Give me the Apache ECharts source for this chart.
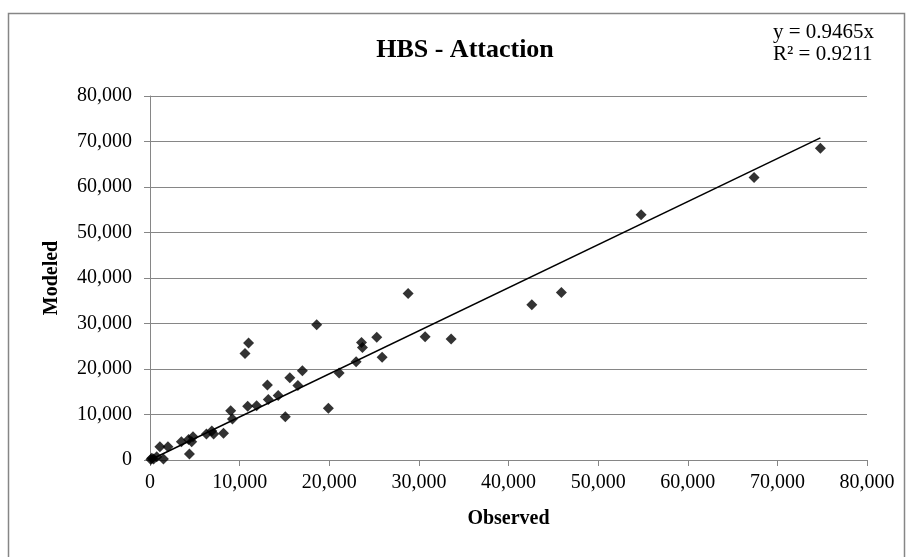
<!DOCTYPE html>
<html>
<head>
<meta charset="utf-8">
<title>HBS - Attaction</title>
<script src="https://cdn.jsdelivr.net/npm/echarts@6/dist/echarts.min.js"></script>
<style>
  html, body { margin: 0; padding: 0; background: #ffffff; }
  #chart { width: 912px; height: 557px; }
</style>
</head>
<body>
<div id="chart"></div>
<script>
// Observed vs modeled trip attractions per zone
const observed = [
  74800, 67400, 54800, 45900, 42600, 33600, 30700, 28800, 25900, 25300,
  23600, 23700, 23000, 21100, 18600, 19900, 17000, 15600, 16500, 15100,
  14300, 13100, 13200, 11900, 10900, 11000, 10600, 9000, 9200, 8200,
  6900, 7100, 6300, 4800, 4650, 4400, 4300, 3500, 2000, 1100,
  1500, 750, 200, 400, 100
];
const modeled = [
  68500, 62100, 53900, 36800, 34100, 26600, 27100, 36600, 22600, 27000,
  25800, 24700, 21600, 19100, 29700, 11400, 19600, 18100, 16400, 9500,
  14200, 16500, 13300, 11900, 11800, 25700, 23400, 10800, 9000, 5900,
  6400, 5700, 5700, 5100, 4000, 1300, 4500, 4000, 2900, 2900,
  200, 700, 400, 200, 100
];

// Linear fit through the origin
const slope = 0.9465;
const rSquared = 0.9211;

const axisTicks = [0, 10000, 20000, 30000, 40000, 50000, 60000, 70000, 80000];

const points = observed.map((x, i) => [x, modeled[i]]);
const xMax = Math.max.apply(null, observed);
const trend = [[0, 0], [xMax, slope * xMax]];

const fmt = v => v.toLocaleString('en-US');
const serif = '"Liberation Serif", "Times New Roman", serif';

const chart = echarts.init(document.getElementById('chart'), null, { renderer: 'canvas' });

chart.setOption({
  backgroundColor: '#ffffff',
  animation: false,
  grid: { left: 150, right: 45, top: 96, bottom: 97 },
  xAxis: {
    type: 'value',
    min: axisTicks[0],
    max: axisTicks[axisTicks.length - 1],
    interval: axisTicks[1] - axisTicks[0],
    name: 'Observed',
    nameLocation: 'middle',
    nameGap: 49,
    nameTextStyle: { fontFamily: serif, fontWeight: 'bold', fontSize: 20, color: '#000' },
    axisLine: { show: true, onZero: false, lineStyle: { color: '#868686', width: 1 } },
    axisTick: { show: true, length: 6, lineStyle: { color: '#868686' } },
    axisLabel: { formatter: fmt, fontFamily: serif, fontSize: 20, color: '#000', margin: 13 },
    splitLine: { show: false }
  },
  yAxis: {
    type: 'value',
    min: axisTicks[0],
    max: axisTicks[axisTicks.length - 1],
    interval: axisTicks[1] - axisTicks[0],
    name: 'Modeled',
    nameLocation: 'middle',
    nameGap: 88,
    nameRotate: 90,
    nameTextStyle: { fontFamily: serif, fontWeight: 'bold', fontSize: 20, color: '#000' },
    axisLine: { show: true, onZero: false, lineStyle: { color: '#868686', width: 1 } },
    axisTick: { show: true, length: 6, lineStyle: { color: '#868686' } },
    axisLabel: { formatter: fmt, fontFamily: serif, fontSize: 20, color: '#000', margin: 18 },
    splitLine: { show: true, lineStyle: { color: '#868686', width: 1.2 } }
  },
  series: [
    {
      name: 'Trend',
      type: 'line',
      data: trend,
      symbol: 'none',
      lineStyle: { color: '#000000', width: 1.5 },
      silent: true,
      z: 3
    },
    {
      name: 'Zones',
      type: 'scatter',
      data: points,
      symbol: 'diamond',
      symbolSize: 11,
      itemStyle: { color: '#000000' },
      z: 4
    }
  ],
  graphic: [
    {
      type: 'rect',
      shape: { x: 8.5, y: 13.5, width: 896, height: 560 },
      style: { fill: 'none', stroke: '#868686', lineWidth: 1.5 },
      silent: true
    },
    {
      type: 'text',
      x: 465, y: 50,
      style: {
        text: 'HBS - Attaction',
        font: 'bold 26px ' + serif,
        fill: '#000',
        align: 'center',
        verticalAlign: 'middle'
      }
    },
    {
      type: 'text',
      x: 773, y: 32,
      style: {
        text: 'y = ' + slope + 'x',
        font: '21px ' + serif,
        fill: '#000',
        align: 'left',
        verticalAlign: 'middle'
      }
    },
    {
      type: 'text',
      x: 773, y: 54,
      style: {
        text: 'R² = ' + rSquared,
        font: '21px ' + serif,
        fill: '#000',
        align: 'left',
        verticalAlign: 'middle'
      }
    }
  ]
});
</script>
</body>
</html>
